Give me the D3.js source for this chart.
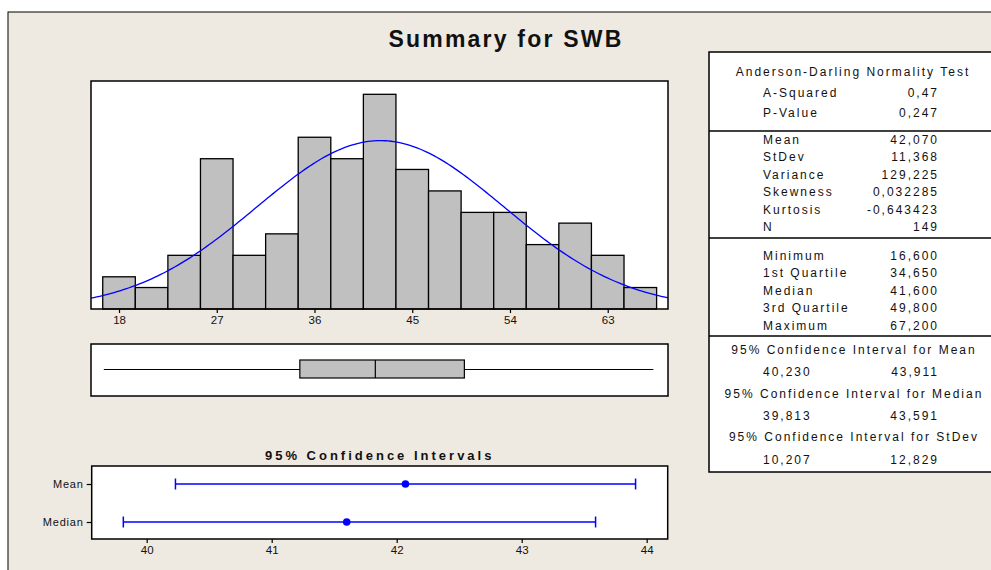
<!DOCTYPE html>
<html><head><meta charset="utf-8">
<script src="https://cdn.jsdelivr.net/npm/d3@7"></script>
<style>
html,body{margin:0;padding:0;background:#fff;}
svg{display:block;}
text{font-family:"Liberation Sans",Arial,sans-serif;fill:#111;}
</style></head>
<body>
<svg id="chart" width="991" height="570"></svg>
<script>
// ---------- data ----------
const binCenters = [18,21,24,27,30,33,36,39,42,45,48,51,54,57,60,63,66];
const binCounts  = [3,2,5,14,5,7,16,14,20,13,11,9,9,6,8,5,2];
const binWidth = 3;
const histTicks = [18,27,36,45,54,63];
const fitMean = 42.070, fitSd = 11.368, sampleN = 149;
const boxStats = [16.6, 34.65, 41.6, 49.8, 67.2]; // min, q1, median, q3, max
const ciNames = ["Mean","Median"];
const ciCenter = [42.070, 41.600];
const ciLow = [40.230, 39.813];
const ciHigh = [43.911, 43.591];
const ciTicks = [40,41,42,43,44];
const adLabels = ["A-Squared","P-Value"];
const adValues = ["0,47","0,247"];
const descLabels = ["Mean","StDev","Variance","Skewness","Kurtosis","N"];
const descValues = ["42,070","11,368","129,225","0,032285","-0,643423","149"];
const quantLabels = ["Minimum","1st Quartile","Median","3rd Quartile","Maximum"];
const quantValues = ["16,600","34,650","41,600","49,800","67,200"];
const ciTableTitles = ["95% Confidence Interval for Mean","95% Confidence Interval for Median","95% Confidence Interval for StDev"];
const ciTableLow = ["40,230","39,813","10,207"];
const ciTableHigh = ["43,911","43,591","12,829"];

// ---------- setup ----------
const svg = d3.select("#chart");
const BG = "#EEEAE1";
svg.append("rect").attr("x",8).attr("y",12).attr("width",1000).attr("height",600)
  .attr("fill",BG).attr("stroke","#000").attr("stroke-width",1);

svg.append("text").attr("x",506).attr("y",39).attr("text-anchor","middle")
  .attr("dominant-baseline","central")
  .style("font-size","23px").style("font-weight","bold").style("letter-spacing","2.2px")
  .text("Summary for SWB");

// ---------- histogram ----------
const H = {l:91, r:668, t:81, b:309};
const x = d3.scaleLinear().domain([15.42, 68.55]).range([H.l, H.r]);
const y = d3.scaleLinear().domain([0, 21.24]).range([H.b, H.t]);

svg.append("rect").attr("x",H.l).attr("y",H.t).attr("width",H.r-H.l).attr("height",H.b-H.t)
  .attr("fill","#fff");

svg.append("g").selectAll("rect").data(binCenters).join("rect")
  .attr("x",(d)=>x(d-binWidth/2))
  .attr("y",(d,i)=>y(binCounts[i]))
  .attr("width",(d)=>x(d+binWidth/2)-x(d-binWidth/2))
  .attr("height",(d,i)=>y(0)-y(binCounts[i]))
  .attr("fill","#C0C0C0").attr("stroke","#000").attr("stroke-width",1.3);

const dens = (v)=> sampleN*binWidth/(fitSd*Math.sqrt(2*Math.PI))*Math.exp(-0.5*Math.pow((v-fitMean)/fitSd,2));
const xs = d3.range(0,201).map(i=>15.42 + (68.55-15.42)*i/200);
svg.append("path").datum(xs)
  .attr("d", d3.line().x(d=>x(d)).y(d=>y(dens(d))))
  .attr("fill","none").attr("stroke","#0000FF").attr("stroke-width",1.3);

svg.append("rect").attr("x",H.l).attr("y",H.t).attr("width",H.r-H.l).attr("height",H.b-H.t)
  .attr("fill","none").attr("stroke","#000").attr("stroke-width",1.5);

const xAxis = svg.append("g").attr("transform",`translate(0,${H.b})`)
  .call(d3.axisBottom(x).tickValues(histTicks).tickFormat(d3.format("d")).tickSize(4).tickPadding(3));
xAxis.select(".domain").remove();
xAxis.selectAll("line").attr("stroke","#000").attr("stroke-width",1.2);
xAxis.selectAll("text").style("font-family","Liberation Sans, Arial, sans-serif")
  .style("font-size","11.5px").attr("fill","#222");

// ---------- box plot ----------
const B = {t:344, b:396, mid:369.5, bt:360, bb:378};
svg.append("rect").attr("x",H.l).attr("y",B.t).attr("width",H.r-H.l).attr("height",B.b-B.t)
  .attr("fill","#fff").attr("stroke","#000").attr("stroke-width",1.5);
svg.append("line").attr("x1",x(boxStats[0])).attr("x2",x(boxStats[1]))
  .attr("y1",B.mid).attr("y2",B.mid).attr("stroke","#000").attr("stroke-width",1.2);
svg.append("line").attr("x1",x(boxStats[3])).attr("x2",x(boxStats[4]))
  .attr("y1",B.mid).attr("y2",B.mid).attr("stroke","#000").attr("stroke-width",1.2);
svg.append("rect").attr("x",x(boxStats[1])).attr("y",B.bt)
  .attr("width",x(boxStats[3])-x(boxStats[1])).attr("height",B.bb-B.bt)
  .attr("fill","#C0C0C0").attr("stroke","#000").attr("stroke-width",1.2);
svg.append("line").attr("x1",x(boxStats[2])).attr("x2",x(boxStats[2]))
  .attr("y1",B.bt).attr("y2",B.bb).attr("stroke","#000").attr("stroke-width",1.2);

// ---------- CI plot ----------
const C = {l:91.7, r:667.7, t:466, b:539};
const cx = d3.scaleLinear().domain([39.56, 44.168]).range([C.l, C.r]);
const cy = d3.scalePoint().domain(ciNames).range([484, 522]);

svg.append("text").attr("x",(C.l+C.r)/2).attr("y",455).attr("text-anchor","middle")
  .attr("dominant-baseline","central")
  .style("font-size","13px").style("font-weight","bold").style("letter-spacing","3px")
  .text("95% Confidence Intervals");

svg.append("rect").attr("x",C.l).attr("y",C.t).attr("width",C.r-C.l).attr("height",C.b-C.t)
  .attr("fill","#fff").attr("stroke","#000").attr("stroke-width",1.5);

const ciG = svg.append("g").selectAll("g").data(ciNames).join("g");
ciG.append("line").attr("x1",(d,i)=>cx(ciLow[i])).attr("x2",(d,i)=>cx(ciHigh[i]))
  .attr("y1",d=>cy(d)).attr("y2",d=>cy(d)).attr("stroke","#0000FF").attr("stroke-width",1.5);
ciG.append("line").attr("x1",(d,i)=>cx(ciLow[i])).attr("x2",(d,i)=>cx(ciLow[i]))
  .attr("y1",d=>cy(d)-5.5).attr("y2",d=>cy(d)+5.5).attr("stroke","#0000FF").attr("stroke-width",1.5);
ciG.append("line").attr("x1",(d,i)=>cx(ciHigh[i])).attr("x2",(d,i)=>cx(ciHigh[i]))
  .attr("y1",d=>cy(d)-5.5).attr("y2",d=>cy(d)+5.5).attr("stroke","#0000FF").attr("stroke-width",1.5);
ciG.append("circle").attr("cx",(d,i)=>cx(ciCenter[i])).attr("cy",d=>cy(d)).attr("r",3.8)
  .attr("fill","#0000FF");

const cxAxis = svg.append("g").attr("transform",`translate(0,${C.b})`)
  .call(d3.axisBottom(cx).tickValues(ciTicks).tickFormat(d3.format("d")).tickSize(4).tickPadding(3));
cxAxis.select(".domain").remove();
cxAxis.selectAll("line").attr("stroke","#000").attr("stroke-width",1.2);
cxAxis.selectAll("text").style("font-family","Liberation Sans, Arial, sans-serif")
  .style("font-size","11.5px").attr("fill","#222");

const cyAxis = svg.append("g").attr("transform",`translate(${C.l},0)`)
  .call(d3.axisLeft(cy).tickSize(5).tickPadding(3));
cyAxis.select(".domain").remove();
cyAxis.selectAll("line").attr("stroke","#000").attr("stroke-width",1.2);
cyAxis.selectAll("text").style("font-family","Liberation Sans, Arial, sans-serif")
  .style("font-size","11px").style("letter-spacing","0.8px").attr("fill","#222");

// ---------- stats table ----------
const T = {l:709, t:52, b:472, r:1000, labX:763, valX:937, cX:853};
svg.append("rect").attr("x",T.l).attr("y",T.t).attr("width",T.r-T.l).attr("height",T.b-T.t)
  .attr("fill","#fff").attr("stroke","#000").attr("stroke-width",1.5);
[131, 238, 336].forEach(yy=>{
  svg.append("line").attr("x1",T.l).attr("x2",T.r).attr("y1",yy).attr("y2",yy)
    .attr("stroke","#000").attr("stroke-width",1.5);
});
const tstyle = (sel)=>sel.attr("dominant-baseline","central").style("font-size","12px").style("letter-spacing","2px");

tstyle(svg.append("text").attr("x",T.cX).attr("y",72).attr("text-anchor","middle").text("Anderson-Darling Normality Test"));

function rows(labels, values, y0, dy){
  const g = svg.append("g");
  tstyle(g.selectAll("text.l").data(labels).join("text").attr("class","l")
    .attr("x",T.labX).attr("y",(d,i)=>y0+i*dy).text(d=>d));
  tstyle(g.selectAll("text.v").data(values).join("text").attr("class","v")
    .attr("x",T.valX+2).attr("y",(d,i)=>y0+i*dy).attr("text-anchor","end").text(d=>d));
}
rows(adLabels, adValues, 93, 20);
rows(descLabels, descValues, 139.5, 17.5);
rows(quantLabels, quantValues, 255.5, 17.6);

const ciRows = svg.append("g").selectAll("g").data(ciTableTitles).join("g");
tstyle(ciRows.append("text").attr("x",T.cX+1).attr("y",(d,i)=>350+i*43.6).attr("text-anchor","middle").text(d=>d));
tstyle(ciRows.append("text").attr("x",T.labX).attr("y",(d,i)=>372+i*44).text((d,i)=>ciTableLow[i]));
tstyle(ciRows.append("text").attr("x",T.valX+2).attr("y",(d,i)=>372+i*44).attr("text-anchor","end").text((d,i)=>ciTableHigh[i]));
</script>
</body></html>
